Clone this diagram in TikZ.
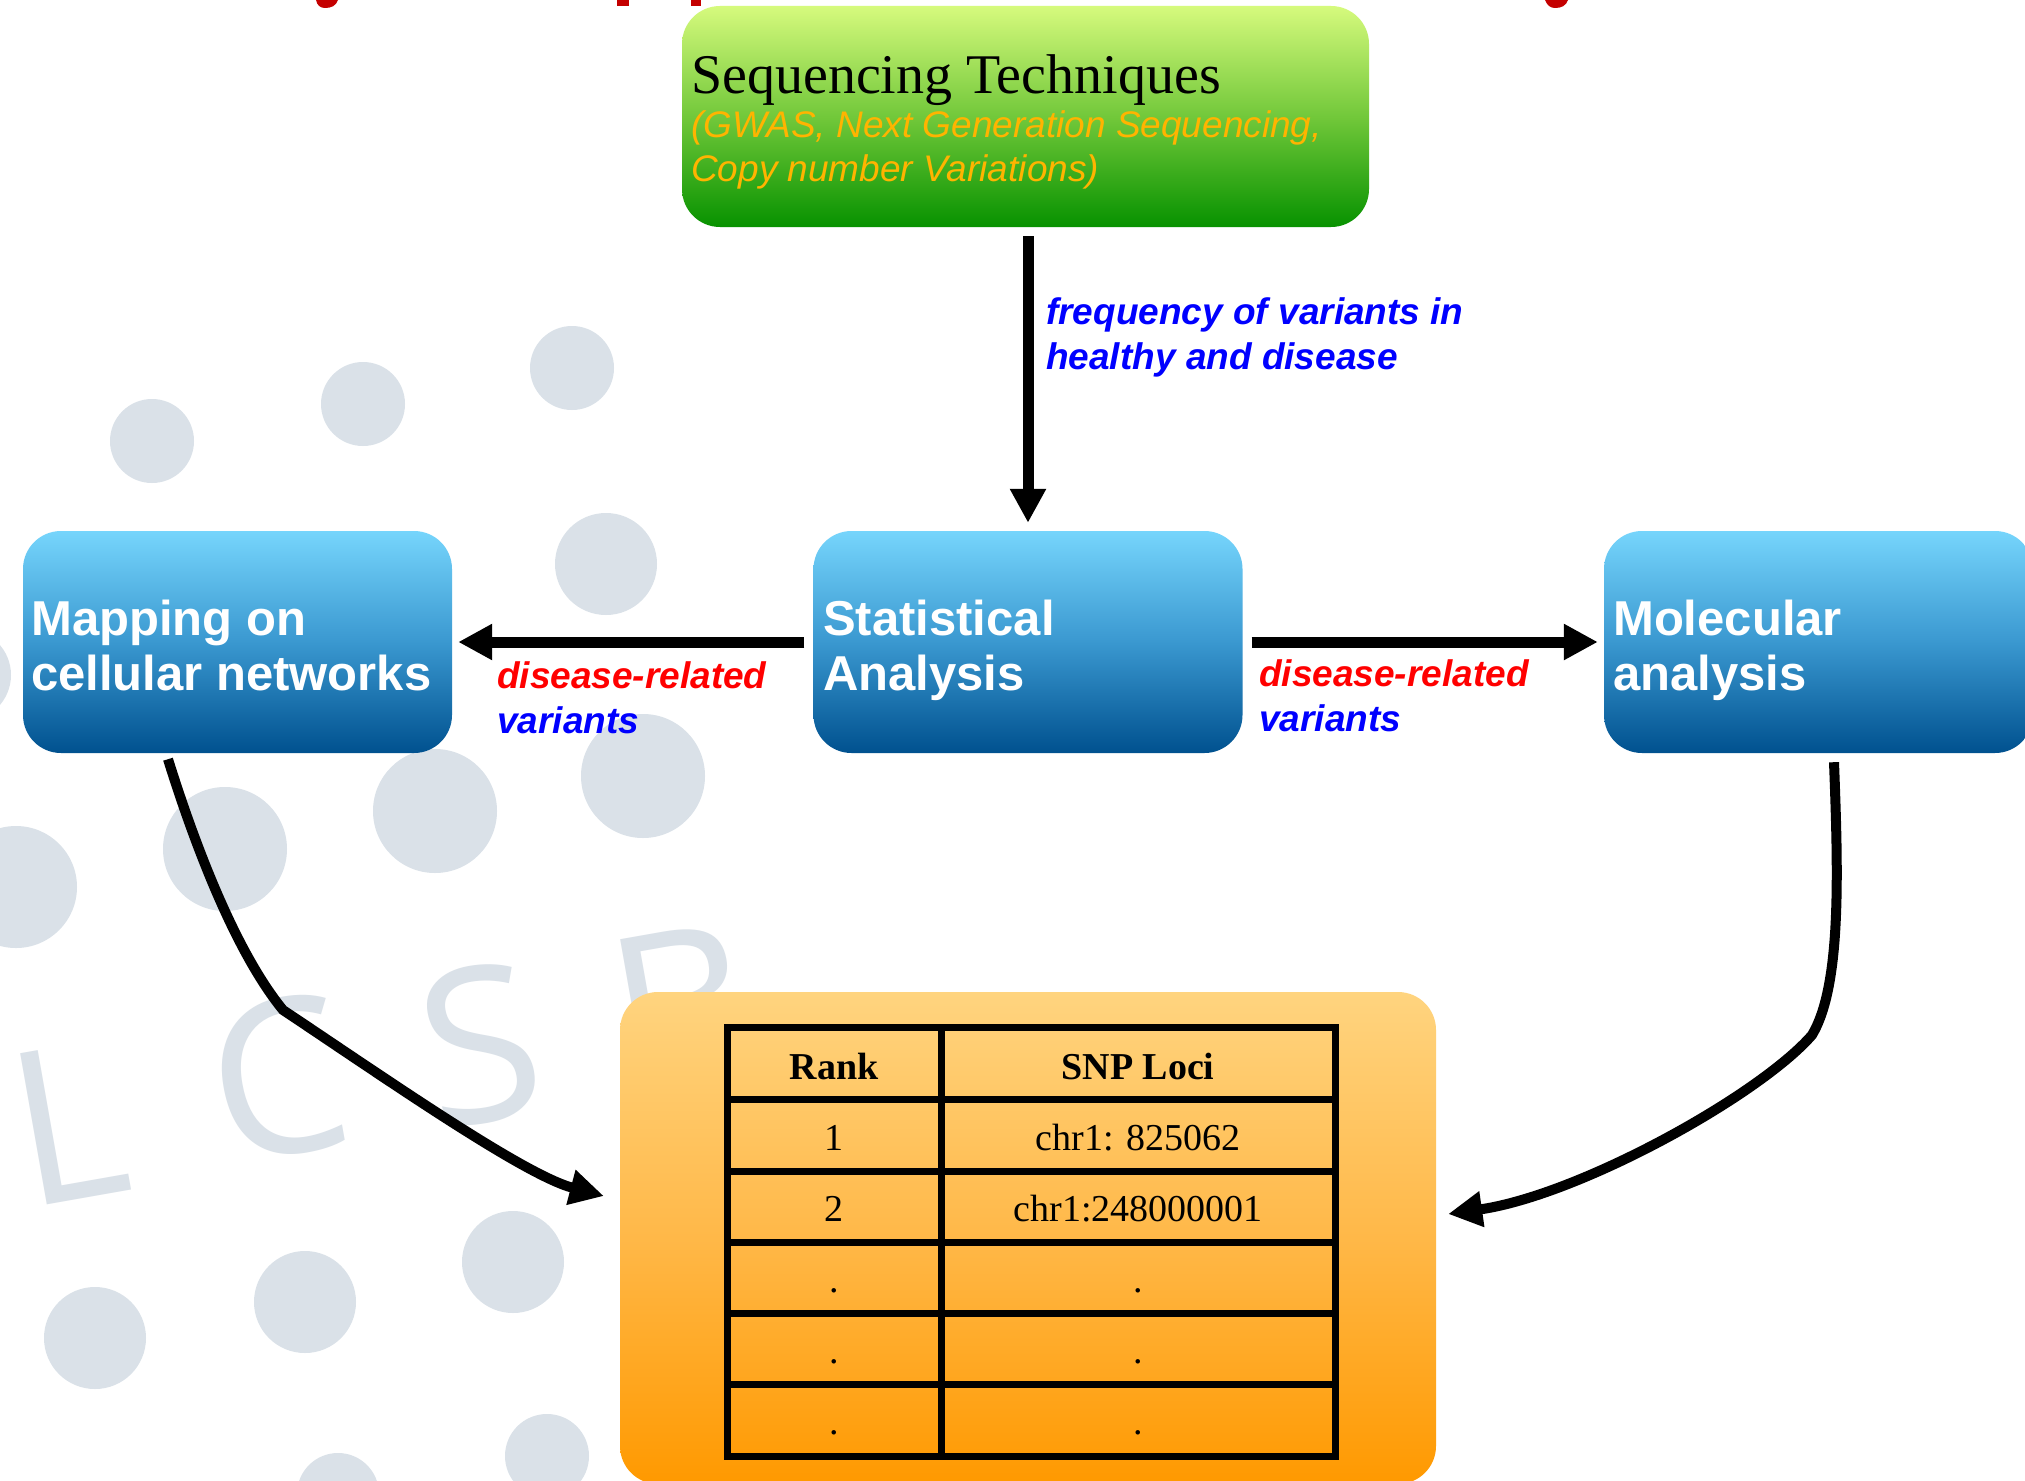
\documentclass[tikz,border=0pt]{standalone}
\usepackage{fontspec}
\setmainfont{Liberation Serif}
\setsansfont{Liberation Sans}
\newfontfamily\lcsbfont{Open Sans}
\usetikzlibrary{arrows.meta}
\definecolor{bgdot}{HTML}{DAE1E8}
\definecolor{blueT}{HTML}{76D5FC}
\definecolor{blueM}{HTML}{3A98D0}
\definecolor{blueB}{HTML}{00518F}
\definecolor{greenT}{HTML}{D6FA7D}
\definecolor{greenM}{HTML}{72C83A}
\definecolor{greenB}{HTML}{079200}
\definecolor{orT}{HTML}{FFD47F}
\definecolor{orM}{HTML}{FFB848}
\definecolor{orB}{HTML}{FF9900}
\definecolor{subor}{HTML}{FFB400}
\definecolor{titlered}{HTML}{C40000}
\definecolor{lblred}{HTML}{FF0000}
\definecolor{lblblue}{HTML}{0000FF}
\begin{document}
\begin{tikzpicture}[x=1pt,y=-1pt,
  box/.style={rectangle, rounded corners=38pt, inner sep=0pt, draw=none},
  bluebox/.style={box, top color=blueT, bottom color=blueB, middle color=blueM,
    minimum width=429pt, minimum height=222pt},
  greenbox/.style={box, top color=greenT, bottom color=greenB, middle color=greenM,
    minimum width=687pt, minimum height=221pt},
  orangebox/.style={box, top color=orT, bottom color=orB, middle color=orM,
    minimum width=816pt, minimum height=492pt},
  txt/.style={anchor=base west, inner sep=0pt},
  boxtxt/.style={txt, text=white, font=\sffamily\bfseries\fontsize{49}{55}\selectfont},
  titletxt/.style={txt, text=black, font=\rmfamily\fontsize{56}{60}\selectfont},
  subtxt/.style={txt, text=subor, font=\sffamily\itshape\fontsize{37}{40}\selectfont},
  lbl/.style={txt, font=\sffamily\bfseries\itshape\fontsize{37}{40}\selectfont},
  redlbl/.style={lbl, text=lblred},
  bluelbl/.style={lbl, text=lblblue},
  cell/.style={anchor=base, inner sep=0pt, font=\rmfamily\fontsize{38}{40}\selectfont},
  lcsb/.style={inner sep=0pt, text=bgdot, rotate=10, font=\lcsbfont\fontsize{215}{215}\selectfont},
  bigarrow/.style={line width=11pt, -{Triangle[length=34pt,width=34pt]}},
  curvearrow/.style={line width=10pt, -{Triangle[length=34pt,width=34pt]}},
  grid/.style={line width=7pt, line cap=rect}
]
\useasboundingbox (0,0) rectangle (2025,1480);
\clip (0,0) rectangle (2025,1480);
\fill[white] (0,0) rectangle (2025,1480);

% title fragments (cut off at top)
\fill[titlered] (316,0) -- (338,0) .. controls (336,6) and (331,8) .. (325,8) .. controls (320,8) and (317,5) .. cycle;
\fill[titlered] (617,0) rectangle (629,6);
\fill[titlered] (691,0) rectangle (701,6);
\fill[titlered] (1545,0) -- (1568,0) .. controls (1566,6) and (1561,8) .. (1555,8) .. controls (1550,8) and (1547,5) .. cycle;

% background dots
\foreach \cx/\cy/\r in {152/441/42, 363/404/42, 572/368/42, 606/564/51,
  16/887/61, 225/849/62, 435/811/62, 643/776/62, -35/675/46,
  513/1262/51, 305/1302/51, 95/1338/51, 338/1494/41, 547/1456/42}
  \fill[bgdot] (\cx,\cy) circle[radius=\r pt];

% background letters
\node[lcsb] (lcsbL) at (68,1123) {L};
\node[lcsb] (lcsbC) at (278,1078) {C};
\node[lcsb] (lcsbS) at (480,1045) {S};
\node[lcsb] (lcsbB) at (682,1007) {B};

% boxes
\node[greenbox] (seq) at (1025.5,116.5) {};
\node[bluebox] (map) at (237.5,642) {};
\node[bluebox] (stat) at (1028,642) {};
\node[bluebox] (mol) at (1818.5,642) {};
\node[orangebox] (tbl) at (1028,1238) {};

% texts in boxes
\node[titletxt] (seqT) at (691,93) {Sequencing Techniques};
\node[subtxt] (seqS1) at (691,137) {(GWAS, Next Generation Sequencing,};
\node[subtxt] (seqS2) at (691,181) {Copy number Variations)};
\node[boxtxt] (mapT1) at (31,635) {Mapping on};
\node[boxtxt] (mapT2) at (31,690) {cellular networks};
\node[boxtxt] (statT1) at (823,635) {Statistical};
\node[boxtxt] (statT2) at (823,690) {Analysis};
\node[boxtxt] (molT1) at (1613,635) {Molecular};
\node[boxtxt] (molT2) at (1613,690) {analysis};

% connectors
\draw[bigarrow, shorten <=9pt, shorten >=8pt] (seq.south -| stat.north) -- (stat.north);
\draw[bigarrow, shorten <=9pt, shorten >=6pt] (stat.west) -- (map.east);
\draw[bigarrow, shorten <=9pt, shorten >=6pt] (stat.east) -- (mol.west);
\draw[curvearrow] ([xshift=-69.5pt,yshift=-6pt]map.south) .. controls (198,855) and (238,955) .. (283,1010)
  .. controls (385,1078) and (524,1175) .. ([xshift=-16pt,yshift=42pt]tbl.west);
\draw[curvearrow] ([xshift=15.5pt,yshift=-9pt]mol.south) .. controls (1838,870) and (1842,985) .. (1812,1035)
  .. controls (1760,1095) and (1580,1195) .. ([xshift=12pt,yshift=24pt]tbl.east);

% connector labels
\node[bluelbl] (freq1) at (1046,324) {frequency of variants in};
\node[bluelbl] (freq2) at (1046,369) {healthy and disease};
\node[redlbl] (lblL1) at (497,688) {disease-related};
\node[bluelbl] (lblL2) at (497,733) {variants};
\node[redlbl] (lblR1) at (1259,686) {disease-related};
\node[bluelbl] (lblR2) at (1259,731) {variants};

% table
\draw[grid] (727,1027) rectangle (1335,1456);
\foreach \yy in {1099,1171,1242,1313,1384}
  \draw[grid] (727,\yy) -- (1335,\yy);
\draw[grid] (941,1027) -- (941,1456);
\node[cell] (hRank) at (834,1079) {\bfseries Rank};
\node[cell] (hLoci) at (1138,1079) {\bfseries SNP Loci};
\node[cell] (r1a) at (834,1150) {1};
\node[cell] (r1b) at (1138,1150) {chr1: 825062};
\node[cell] (r2a) at (834,1221) {2};
\node[cell] (r2b) at (1138,1221) {chr1:248000001};
\node[cell] (r3a) at (834,1292) {.};
\node[cell] (r3b) at (1138,1292) {.};
\node[cell] (r4a) at (834,1363) {.};
\node[cell] (r4b) at (1138,1363) {.};
\node[cell] (r5a) at (834,1434) {.};
\node[cell] (r5b) at (1138,1434) {.};
\end{tikzpicture}
\end{document}
